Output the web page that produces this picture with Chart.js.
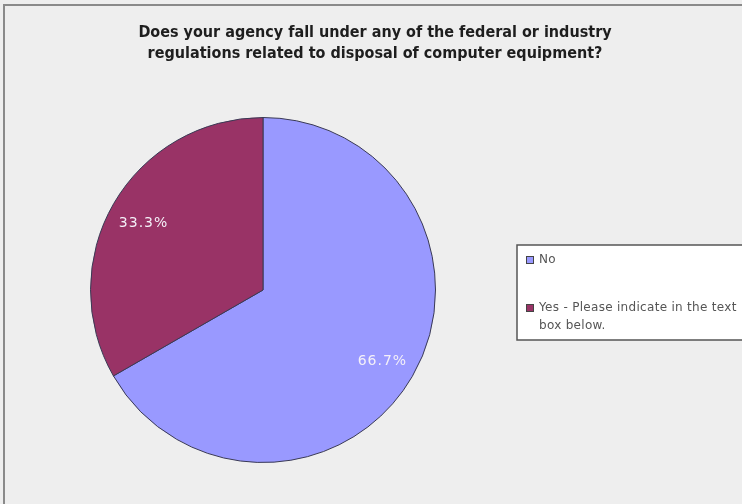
<!DOCTYPE html>
<html>
<head>
<meta charset="utf-8">
<script src="https://cdn.jsdelivr.net/npm/chart.js@4/dist/chart.umd.min.js"></script>
<style>
  html, body { margin: 0; padding: 0; background: #eeeeee; }
  #wrap { width: 742px; height: 504px; }
</style>
</head>
<body>
<div id="wrap"><canvas id="c" width="742" height="504"></canvas></div>
<script>
const titleLines = [
  'Does your agency fall under any of the federal or industry',
  'regulations related to disposal of computer equipment?'
];
const categories = ['No', 'Yes - Please indicate in the text box below.'];
const legendLines = [['No'], ['Yes - Please indicate in the text', 'box below.']];
const shares = [66.7, 33.3];
const sliceColors = ['#9999ff', '#993366'];

// Background, outer frame, title, legend box and in-slice percentages
const decor = {
  id: 'decor',
  beforeDraw(chart) {
    const ctx = chart.ctx;
    ctx.save();
    ctx.fillStyle = '#eeeeee';
    ctx.fillRect(0, 0, chart.width, chart.height);
    ctx.strokeStyle = '#8a8a8a';
    ctx.lineWidth = 2;
    ctx.strokeRect(4, 5, 800, 600);
    ctx.fillStyle = '#1e1e1e';
    ctx.font = 'bold 16px "Liberation Sans Narrow", "DejaVu Sans Condensed", sans-serif';
    ctx.textAlign = 'center';
    ctx.textBaseline = 'middle';
    ctx.fillText(titleLines[0], 375, 33);
    ctx.fillText(titleLines[1], 375, 54);
    ctx.restore();
  },
  afterDatasetsDraw(chart) {
    const ctx = chart.ctx;
    const meta = chart.getDatasetMeta(0);
    ctx.save();
    // value labels
    ctx.font = '14px "DejaVu Sans", sans-serif';
    ctx.letterSpacing = '1px';
    ctx.fillStyle = '#f4f0f8';
    ctx.textAlign = 'center';
    ctx.textBaseline = 'middle';
    meta.data.forEach((arc, i) => {
      const p = arc.getProps(['x', 'y', 'startAngle', 'endAngle', 'outerRadius'], true);
      const mid = (p.startAngle + p.endAngle) / 2;
      const r = p.outerRadius * 0.8;
      ctx.fillText(shares[i].toFixed(1) + '%', p.x + Math.cos(mid) * r, p.y + Math.sin(mid) * r + 2);
    });
    // legend box
    const lx = 517, ly = 245;
    ctx.fillStyle = '#ffffff';
    ctx.fillRect(lx, ly, 260, 95);
    ctx.strokeStyle = '#555555';
    ctx.lineWidth = 1.5;
    ctx.strokeRect(lx, ly, 260, 95);
    ctx.font = '12px "DejaVu Sans", sans-serif';
    ctx.letterSpacing = '0.3px';
    ctx.textAlign = 'left';
    const rows = [260, 308];
    categories.forEach((c, i) => {
      const y = rows[i];
      ctx.fillStyle = sliceColors[i];
      ctx.fillRect(526, y - 4, 8, 8);
      ctx.strokeStyle = '#444444';
      ctx.lineWidth = 1;
      ctx.strokeRect(526.5, y - 3.5, 7, 7);
      ctx.fillStyle = '#555555';
      legendLines[i].forEach((t, k) => ctx.fillText(t, 539, y + k * 18));
    });
    ctx.restore();
  }
};

new Chart(document.getElementById('c'), {
  type: 'pie',
  data: {
    labels: categories,
    datasets: [{
      data: shares,
      backgroundColor: sliceColors,
      borderColor: '#3a3a55',
      borderWidth: 1
    }]
  },
  options: {
    responsive: false,
    animation: false,
    layout: { padding: { left: 90, right: 306, top: 116, bottom: 40 } },
    plugins: {
      legend: { display: false },
      title: { display: false },
      tooltip: { enabled: false }
    }
  },
  plugins: [decor]
});
</script>
</body>
</html>
